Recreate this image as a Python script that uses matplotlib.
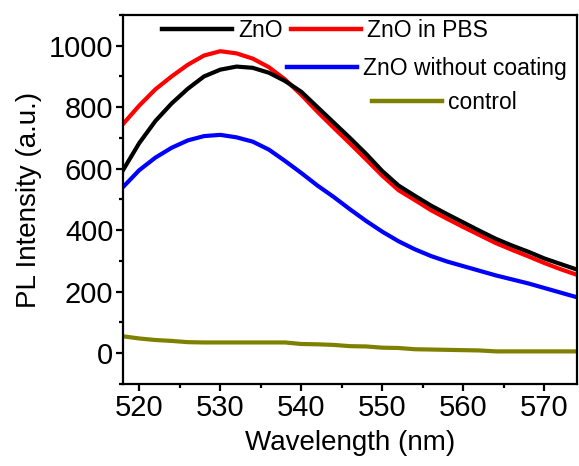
import matplotlib
matplotlib.use("Agg")
import matplotlib.pyplot as plt
from matplotlib.lines import Line2D

plt.rcParams['font.family'] = ['Liberation Sans', 'DejaVu Sans']

# wavelength grid (nm)
wavelength = [518, 520, 522, 524, 526, 528, 530, 532, 534, 536, 538, 540, 542, 544,
              546, 548, 550, 552, 554, 556, 558, 560, 562, 564, 566, 568, 570, 572, 574]

zno = [595, 683, 755, 812, 860, 900, 922, 932, 928, 912, 885, 850, 800, 750,
       700, 648, 592, 545, 512, 480, 452, 425, 398, 372, 350, 330, 308, 290, 272]
zno_pbs = [745, 805, 858, 900, 938, 968, 982, 975, 958, 930, 890, 840, 785, 733,
           682, 630, 577, 530, 498, 465, 437, 410, 384, 358, 336, 315, 293, 273, 255]
zno_nocoat = [540, 595, 636, 668, 692, 706, 710, 702, 688, 662, 625, 586, 545, 508,
              468, 430, 395, 364, 338, 316, 298, 283, 268, 253, 240, 227, 212, 197, 182]
control = [55, 48, 43, 40, 36, 35, 35, 35, 35, 35, 35, 30, 29, 27,
           23, 22, 18, 17, 13, 12, 11, 10, 9, 6, 6, 6, 6, 6, 6]

labels = ["ZnO", "ZnO in PBS", "ZnO without coating", "control"]
colors = ["black", "red", "blue", "#808000"]

fig = plt.figure(figsize=(5.79, 4.66), dpi=100)
ax = fig.add_axes([0.2124, 0.176, 0.784, 0.792])

for ys, c in zip([zno_nocoat, zno_pbs, zno, control], ["blue", "red", "black", "#808000"]):
    ax.plot(wavelength, ys, color=c, lw=3, solid_joinstyle='round')

ax.set_xlim(518, 574)
ax.set_ylim(-100, 1100)
ax.set_xticks([520, 530, 540, 550, 560, 570])
ax.set_xticks([525, 535, 545, 555, 565], minor=True)
ax.set_yticks([0, 200, 400, 600, 800, 1000])
ax.set_yticks([-100, 100, 300, 500, 700, 900, 1100], minor=True)
ax.tick_params(which='major', direction='out', length=5, width=1.6, labelsize=21, pad=2)
ax.tick_params(which='minor', direction='out', length=3, width=1.6)
ax.tick_params(top=False, right=False)
for s in ax.spines.values():
    s.set_linewidth(1.6)

ax.set_xlabel("Wavelength (nm)", fontsize=20, labelpad=6)
ax.set_ylabel("PL Intensity (a.u.)", fontsize=20, labelpad=5)

def handle(c):
    return Line2D([], [], color=c, lw=3.2)

leg_kw = dict(frameon=False, fontsize=16.5, handlelength=3.05, handletextpad=0.26,
              borderpad=0, borderaxespad=0, loc='center left')
l1 = ax.legend([handle(colors[0]), handle(colors[1])], labels[:2], ncol=2,
               columnspacing=0.39, bbox_to_anchor=(0.086, 0.959), **leg_kw)
ax.add_artist(l1)
l2 = ax.legend([handle(colors[2])], [labels[2]], bbox_to_anchor=(0.361, 0.856), **leg_kw)
ax.add_artist(l2)
ax.legend([handle(colors[3])], [labels[3]], bbox_to_anchor=(0.548, 0.762), **leg_kw)

fig.savefig("out.png", dpi=100)
